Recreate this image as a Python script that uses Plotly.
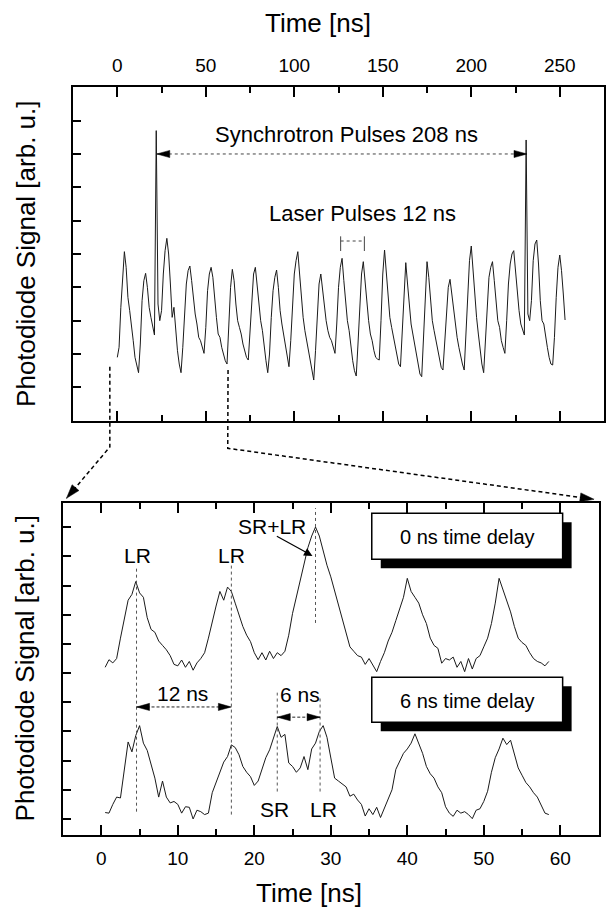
import plotly.graph_objects as go

W, H = 606, 909
FONT = "Liberation Sans, Arial, sans-serif"

# ------------------------------------------------------------------ data
# Top panel: photodiode signal over 0..253 ns (1 ns sampling)
TOP_TIME_NS = list(range(0, 254))
TOP_SIGNAL = [
    1.9, 2.2, 3.4, 4.4, 5.07, 4.6, 3.7, 3.3, 2.9, 2.4, 1.9, 1.7,
    1.44, 2.3, 3.6, 4.2, 4.42, 4.0, 3.4, 3.1, 2.8, 2.57, 8.70, 3.5,
    3.0, 3.3, 4.4, 5.1, 5.47, 5.0, 4.1, 3.1, 3.4, 2.6, 2.1, 1.7,
    1.44, 2.2, 3.2, 4.1, 4.5, 4.64, 4.2, 3.6, 3.2, 2.9, 2.5, 2.4,
    2.2, 2.02, 2.8, 3.9, 4.4, 4.60, 4.3, 3.6, 3.1, 2.6, 2.5, 2.2,
    2.0, 1.8, 1.70, 2.9, 4.0, 4.54, 4.2, 3.5, 3.0, 2.8, 2.6, 2.3,
    2.1, 1.9, 1.82, 2.7, 3.8, 4.4, 4.60, 4.1, 3.4, 3.0, 2.7, 2.2,
    1.8, 1.44, 2.0, 3.1, 3.9, 4.3, 4.52, 4.0, 3.3, 2.9, 2.6, 2.2,
    1.9, 1.62, 2.4, 3.5, 4.4, 4.8, 5.07, 4.4, 3.6, 3.1, 2.7, 2.4,
    2.0, 1.8, 1.5, 1.22, 2.1, 3.3, 4.1, 4.40, 3.9, 3.3, 3.0, 2.7,
    2.5, 2.4, 2.2, 2.02, 2.9, 4.0, 4.6, 4.87, 4.2, 3.5, 3.0, 2.7,
    2.2, 1.8, 1.5, 1.34, 2.3, 3.5, 4.4, 4.77, 4.2, 3.4, 3.0, 2.6,
    2.4, 2.1, 1.9, 1.85, 1.82, 3.0, 4.4, 5.12, 4.5, 3.7, 3.1, 2.8,
    2.5, 2.2, 1.9, 1.7, 1.62, 2.6, 3.9, 4.74, 4.1, 3.4, 2.9, 2.6,
    2.3, 1.9, 1.6, 1.4, 1.32, 2.5, 3.9, 4.77, 4.3, 3.5, 3.0, 2.7,
    2.4, 2.1, 1.8, 1.6, 1.52, 2.4, 3.4, 4.0, 4.24, 3.8, 3.2, 2.9,
    2.5, 2.2, 1.9, 1.7, 1.52, 2.6, 4.0, 4.8, 5.24, 4.5, 3.7, 3.1,
    2.6, 2.1, 1.7, 1.44, 2.4, 3.6, 4.3, 4.6, 4.77, 4.2, 3.5, 3.0,
    2.8, 2.4, 2.2, 2.02, 3.0, 4.1, 4.7, 5.0, 5.10, 4.5, 3.7, 3.3,
    2.9, 2.7, 2.57, 8.42, 3.2, 3.0, 3.6, 4.8, 5.3, 5.42, 4.7, 3.6,
    3.0, 2.9, 2.5, 2.2, 1.9, 1.7, 1.67, 2.5, 3.7, 4.6, 4.97, 4.5,
    3.8, 3.02,
]

# Bottom panel: 0.5 ns sampling, 0.5 .. 58.5 ns
BOTTOM_TIME_NS = [0.5 * i for i in range(1, 118)]
SIGNAL_0NS_DELAY = [
    5.2, 5.46, 5.35, 5.5, 6.2, 6.9, 7.5, 7.7, 8.14, 7.75,
    7.6, 6.9, 6.5, 6.4, 6.1, 5.95, 5.8, 5.6, 5.3, 5.25,
    5.45, 5.2, 5.4, 5.1, 5.35, 5.5, 5.7, 6.2, 6.8, 7.3,
    7.8, 7.5, 7.95, 7.8, 7.4, 7.0, 6.6, 6.3, 6.08, 5.7,
    5.46, 5.7, 5.45, 5.75, 5.5, 5.7, 5.6, 5.75, 6.3, 7.05,
    7.6, 8.2, 8.8, 9.3, 9.7, 10.01, 9.7, 9.2, 8.7, 8.3,
    7.8, 7.3, 6.85, 6.3, 5.9, 5.75, 5.6, 5.55, 5.3, 5.5,
    5.25, 5.05, 5.4, 5.7, 6.1, 6.4, 6.8, 7.2, 7.6, 8.25,
    7.8, 7.6, 7.4, 7.0, 6.7, 6.2, 5.95, 5.85, 5.34, 5.5,
    5.45, 5.55, 5.2, 5.4, 5.05, 5.5, 5.14, 5.5, 5.6, 5.9,
    6.2, 6.7, 7.4, 8.25, 7.85, 7.5, 7.1, 6.6, 6.2, 6.05,
    5.95, 5.7, 5.5, 5.4, 5.35, 5.25, 5.4,
]
SIGNAL_6NS_DELAY = [
    0.22, 0.2, 0.5, 0.75, 0.72, 1.6, 2.64, 2.3, 2.86, 3.2,
    2.6, 2.35, 1.89, 1.4, 0.75, 1.3, 0.75, 0.55, 0.6, 0.5,
    0.2, 0.42, 0.4, 0.0, 0.3, 0.25, 0.15, 0.2, 0.9, 1.25,
    1.65, 1.95, 2.14, 2.54, 2.45, 2.2, 1.8, 1.6, 1.45, 1.15,
    1.3, 1.7, 2.1, 2.37, 2.8, 3.17, 2.8, 2.9, 1.92, 1.8,
    1.6, 1.75, 2.14, 1.69, 2.4, 2.6, 3.0, 3.2, 2.8, 2.1,
    1.4, 1.3, 1.2, 1.1, 0.78, 0.85, 0.65, 0.5, 0.1, 0.35,
    0.15, 0.4, 0.05, 0.35, 0.65, 1.0, 1.7, 2.0, 2.25, 2.4,
    2.6, 2.92, 2.6, 2.25, 1.8, 1.55, 1.4, 1.1, 0.9, 0.42,
    0.2, 0.09, 0.3, 0.2, 0.25, 0.15, 0.01, 0.3, 0.35, 0.6,
    0.95, 1.6, 2.1, 2.4, 2.77, 2.55, 2.7, 2.2, 1.75, 1.5,
    1.25, 1.1, 0.9, 0.75, 0.45, 0.2, 0.15,
]

TOP_TICKS = [0, 50, 100, 150, 200, 250]
BOTTOM_TICKS = [0, 10, 20, 30, 40, 50, 60]
TOP_YTICKS = [1, 2, 3, 4, 5, 6, 7, 8, 9]
BOTTOM_YTICKS = [0, 1, 2, 3, 4, 5, 6, 7, 8, 9, 10]


# ------------------------------------------------------------------ helpers
def PX(x):
    return x / W


def PY(y):
    return 1 - y / H


fig = go.Figure()
trace_style = dict(mode="lines", line=dict(color="#1a1a1a", width=1),
                   showlegend=False, hoverinfo="skip")
fig.add_trace(go.Scatter(x=TOP_TIME_NS, y=TOP_SIGNAL, xaxis="x", yaxis="y", **trace_style))
fig.add_trace(go.Scatter(x=BOTTOM_TIME_NS, y=SIGNAL_0NS_DELAY, xaxis="x2", yaxis="y2", **trace_style))
fig.add_trace(go.Scatter(x=BOTTOM_TIME_NS, y=SIGNAL_6NS_DELAY, xaxis="x2", yaxis="y2", **trace_style))

common = dict(showline=True, linecolor="black", linewidth=2, ticks="inside",
              tickcolor="black", tickwidth=2, showgrid=False, zeroline=False,
              tickfont=dict(family=FONT, size=19, color="black"))

fig.update_layout(
    width=W, height=H, autosize=False,
    margin=dict(l=0, r=0, t=0, b=0, pad=0),
    paper_bgcolor="white", plot_bgcolor="white",
    font=dict(family=FONT, color="black"),
    showlegend=False,
    xaxis=dict(domain=[PX(73.3), 1.0], range=[-25, 275], side="top", anchor="y",
               tickvals=TOP_TICKS, ticktext=[str(v) for v in TOP_TICKS], ticklen=10,
               mirror="ticks", ticklabelstandoff=6,
               minor=dict(tickmode="linear", tick0=0, dtick=25, ticklen=6, tickwidth=2,
                          ticks="inside", tickcolor="black"),
               **common),
    yaxis=dict(domain=[PY(420.7), PY(87.3)], range=[0, 10], anchor="x",
               tickvals=TOP_YTICKS, showticklabels=False, ticklen=8, mirror=True, **common),
    xaxis2=dict(domain=[PX(63.3), PX(600.5)], range=[-5, 65], anchor="y2",
                tickvals=BOTTOM_TICKS, ticktext=[str(v) for v in BOTTOM_TICKS], ticklen=10,
                mirror="ticks", ticklabelstandoff=5,
                minor=dict(tickmode="linear", tick0=0, dtick=5, ticklen=6, tickwidth=2,
                           ticks="inside", tickcolor="black"),
                **common),
    yaxis2=dict(domain=[PY(835), PY(502.5)], range=[-0.55, 10.85], anchor="x2",
                tickvals=BOTTOM_YTICKS, showticklabels=False, ticklen=8, mirror=True, **common),
)

shapes = []
annotations = []


def head(xref, yref, x, y, direction):
    # direction -1: points left, +1: points right
    L, h = 13, 3.6
    path = f"M0,0 L{-direction * L},{h} L{-direction * L},{-h} Z"
    shapes.append(dict(type="path", xref=xref, yref=yref, xsizemode="pixel", ysizemode="pixel",
                       xanchor=x, yanchor=y, path=path, fillcolor="black",
                       line=dict(color="black", width=0.5), layer="above"))


def vline(xref, yref, x, y0, y1, color="#555", dash="dot", width=1):
    shapes.append(dict(type="line", xref=xref, yref=yref, x0=x, x1=x, y0=y0, y1=y1,
                       line=dict(color=color, width=width, dash=dash), layer="above"))


def hline(xref, yref, x0, x1, y, color="#555", dash="dot", width=1):
    shapes.append(dict(type="line", xref=xref, yref=yref, x0=x0, x1=x1, y0=y, y1=y,
                       line=dict(color=color, width=width, dash=dash), layer="above"))


def text(xref, yref, x, y, s, size):
    annotations.append(dict(xref=xref, yref=yref, x=x, y=y, text=s, showarrow=False,
                            xanchor="center", yanchor="middle",
                            font=dict(family=FONT, size=size, color="black")))


# ---- top panel annotations
text("x", "y", 129.6, 8.57, "Synchrotron Pulses 208 ns", 22)
hline("x", "y", 22.3, 231.5, 8.0, color="#444", dash="dot")
head("x", "y", 22.3, 8.0, -1)
head("x", "y", 231.5, 8.0, +1)
text("x", "y", 138.3, 6.22, "Laser Pulses 12 ns", 22)
hline("x", "y", 126.2, 139.6, 5.39, color="#444", dash="dot")
vline("x", "y", 126.2, 5.09, 5.53, color="#444", dash="solid")
vline("x", "y", 139.6, 5.09, 5.53, color="#444", dash="solid")

# ---- bottom panel annotations
vline("x2", "y2", 4.6, 0.25, 8.64)
vline("x2", "y2", 17.0, 0.15, 8.74)
vline("x2", "y2", 28.0, 6.72, 10.66)
vline("x2", "y2", 23.0, 0.94, 4.33)
vline("x2", "y2", 28.6, 0.94, 4.19)
text("x2", "y2", 4.7, 9.05, "LR", 21)
text("x2", "y2", 17.0, 9.05, "LR", 21)
text("x2", "y2", 22.3, 10.02, "SR+LR", 21)
annotations.append(dict(xref="x2", yref="y2", axref="x2", ayref="y2", x=27.6, y=9.02,
                        ax=22.75, ay=9.72, text="", showarrow=True, arrowhead=2,
                        arrowsize=1.4, arrowwidth=1.2, arrowcolor="black", standoff=0))
hline("x2", "y2", 4.6, 17.0, 3.84, color="#222", dash="3px,2px")
head("x2", "y2", 4.6, 3.84, -1)
head("x2", "y2", 17.0, 3.84, +1)
text("x2", "y2", 10.6, 4.31, "12 ns", 21)
hline("x2", "y2", 23.0, 28.6, 3.49, color="#222", dash="3px,2px")
head("x2", "y2", 23.0, 3.49, -1)
head("x2", "y2", 28.6, 3.49, +1)
text("x2", "y2", 26.0, 4.26, "6 ns", 21)
text("x2", "y2", 22.6, 0.32, "SR", 21)
text("x2", "y2", 29.1, 0.32, "LR", 21)

# ---- legend-like boxes with drop shadows (paper coords from pixels)
for (x0, y0, x1, y1, label) in [(373, 513.3, 564.5, 559.3, "0 ns time delay"),
                               (373, 677.3, 564.5, 722.3, "6 ns time delay")]:
    off = 9
    shapes.append(dict(type="rect", xref="paper", yref="paper",
                       x0=PX(x0 + off), x1=PX(x1 + off), y0=PY(y1 + off), y1=PY(y0 + off),
                       fillcolor="black", line=dict(width=0), layer="above"))
    shapes.append(dict(type="rect", xref="paper", yref="paper",
                       x0=PX(x0), x1=PX(x1), y0=PY(y1), y1=PY(y0),
                       fillcolor="white", line=dict(color="black", width=1.5), layer="above"))
    annotations.append(dict(xref="paper", yref="paper", x=PX((x0 + x1) / 2), y=PY((y0 + y1) / 2 + 1),
                            text=label, showarrow=False, xanchor="center", yanchor="middle",
                            font=dict(family=FONT, size=20, color="black")))

# ---- dotted connectors from top panel to bottom panel
def connector(points):
    d = "M " + " L ".join(f"{PX(x)},{PY(y)}" for x, y in points)
    shapes.append(dict(type="path", xref="paper", yref="paper", path=d,
                       line=dict(color="black", width=1.5, dash="4px,3px"), layer="above"))
    (xa, ya), (xb, yb) = points[-2], points[-1]
    dx, dy = xb - xa, yb - ya
    n = (dx * dx + dy * dy) ** 0.5
    ux, uy = dx / n, dy / n
    L, h = 14, 4.5
    bx, by = xb - ux * L, yb - uy * L
    p1 = (bx - uy * h, by + ux * h)
    p2 = (bx + uy * h, by - ux * h)
    d2 = f"M {PX(xb)},{PY(yb)} L {PX(p1[0])},{PY(p1[1])} L {PX(p2[0])},{PY(p2[1])} Z"
    shapes.append(dict(type="path", xref="paper", yref="paper", path=d2,
                       fillcolor="black", line=dict(color="black", width=0.5), layer="above"))


connector([(110.2, 366.7), (110.2, 447), (66.7, 498.3)])
connector([(228.8, 370), (228.5, 448.3), (596, 499.3)])

# ---- axis titles
title_font = dict(family=FONT, size=26, color="black")
annotations.append(dict(xref="paper", yref="paper", x=PX(318.6), y=PY(23.3), text="Time [ns]",
                        showarrow=False, xanchor="center", yanchor="middle", font=title_font))
annotations.append(dict(xref="paper", yref="paper", x=PX(310), y=PY(893), text="Time [ns]",
                        showarrow=False, xanchor="center", yanchor="middle", font=title_font))
annotations.append(dict(xref="paper", yref="paper", x=PX(26), y=PY(254), text="Photodiode Signal [arb. u.]",
                        showarrow=False, xanchor="center", yanchor="middle", textangle=-90,
                        font=title_font))
annotations.append(dict(xref="paper", yref="paper", x=PX(25), y=PY(668.5), text="Photodiode Signal [arb. u.]",
                        showarrow=False, xanchor="center", yanchor="middle", textangle=-90,
                        font=title_font))

fig.update_layout(shapes=shapes, annotations=annotations)

fig.write_html("out.html", config={"displayModeBar": False},
               post_script="document.body.style.margin='0';")
